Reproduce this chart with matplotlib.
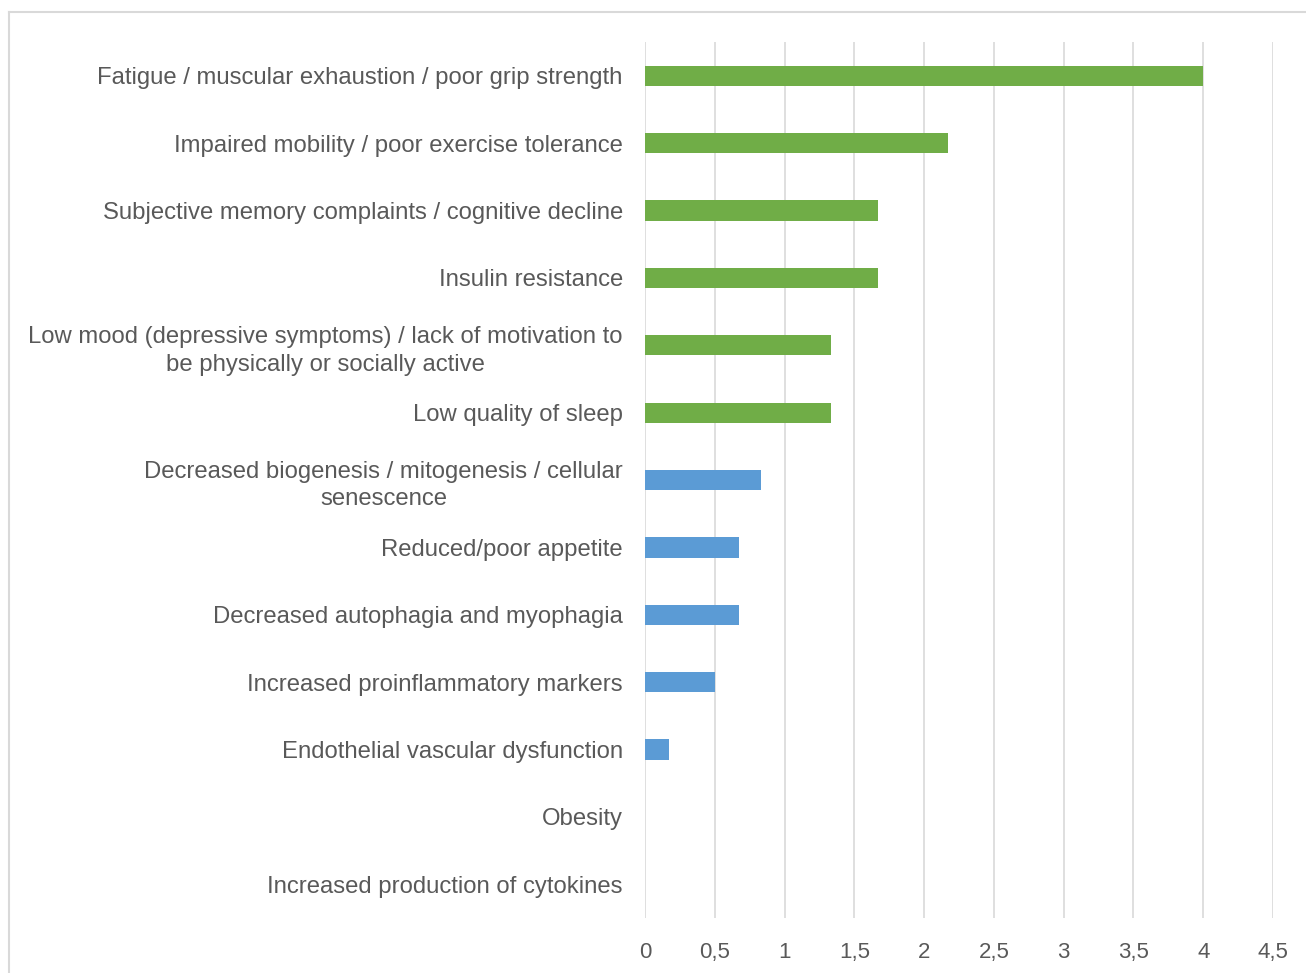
import matplotlib.pyplot as plt
from matplotlib.lines import Line2D

categories = [
    'Fatigue / muscular exhaustion / poor grip strength',
    'Impaired mobility / poor exercise tolerance',
    'Subjective memory complaints / cognitive decline',
    'Insulin resistance',
    'Low mood (depressive symptoms) / lack of motivation to\nbe physically or socially active',
    'Low quality of sleep',
    'Decreased biogenesis / mitogenesis / cellular\nsenescence',
    'Reduced/poor appetite',
    'Decreased autophagia and myophagia',
    'Increased proinflammatory markers',
    'Endothelial vascular dysfunction',
    'Obesity',
    'Increased production of cytokines',
]
values = [4.0, 2.17, 1.67, 1.67, 1.33, 1.33, 0.83, 0.67, 0.67, 0.5, 0.17, 0.0, 0.0]
groups = ['green'] * 6 + ['blue'] * 7
ticks = [0, 0.5, 1, 1.5, 2, 2.5, 3, 3.5, 4, 4.5]
tick_labels = ['0', '0,5', '1', '1,5', '2', '2,5', '3', '3,5', '4', '4,5']

palette = {'green': '#70AD47', 'blue': '#5B9BD5'}
text_color = '#595959'

plt.rcParams['font.family'] = ['Liberation Sans', 'DejaVu Sans']

fig = plt.figure(figsize=(13.06, 9.73), dpi=100)
ax = fig.add_axes([0.4939, 0.0565, 0.4808, 0.9003])

pos = list(range(len(categories)))
ax.barh(pos, values, height=0.3, color=[palette[g] for g in groups], zorder=3)

ax.set_ylim(len(categories) - 0.5, -0.5)
ax.set_xlim(0, 4.5)
ax.set_yticks(pos)
ax.set_yticklabels(categories, fontsize=17.2, color=text_color,
                   multialignment='center', linespacing=1.35)
ax.set_xticks(ticks)
ax.set_xticklabels(tick_labels, fontsize=16, color=text_color)
ax.tick_params(axis='both', length=0)
ax.tick_params(axis='y', pad=16)
ax.tick_params(axis='x', pad=17)

ax.grid(axis='x', color='#D9D9D9', linewidth=1.2, zorder=0)
for s in ax.spines.values():
    s.set_visible(False)

# outer frame of the chart area
fig.add_artist(Line2D([0.0069, 0.0069], [0.0, 0.9877], color='#D9D9D9', linewidth=1.5))
fig.add_artist(Line2D([0.0069, 1.0], [0.9877, 0.9877], color='#D9D9D9', linewidth=1.5))

fig.savefig('out.png', dpi=100)
